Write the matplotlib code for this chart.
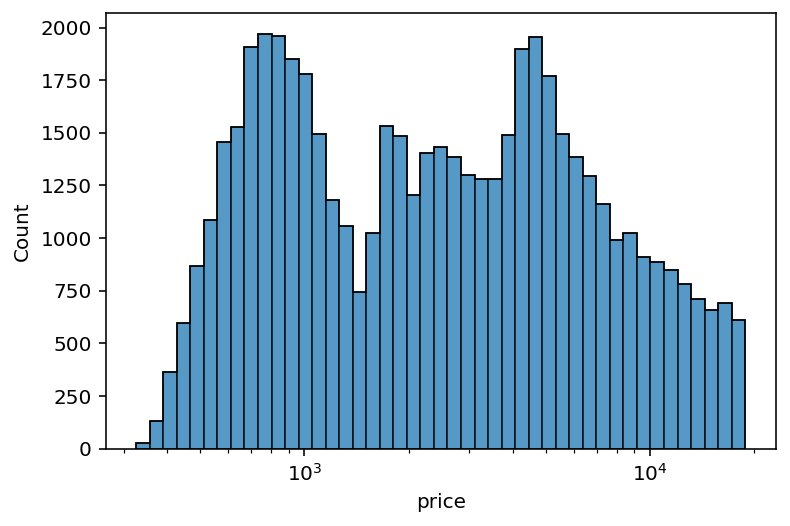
import numpy as np
import matplotlib
matplotlib.use("Agg")
import matplotlib.pyplot as plt

price_min = 326
price_max = 18823
counts = [25, 130, 364, 597, 869, 1085, 1455, 1526, 1907, 1969, 1958, 1850, 1779,
          1493, 1179, 1059, 745, 1026, 1531, 1483, 1207, 1402, 1431, 1383, 1302,
          1282, 1282, 1489, 1898, 1955, 1769, 1493, 1383, 1293, 1164, 990, 1026,
          912, 888, 850, 783, 710, 659, 692, 612]

n_bins = len(counts)
edges = np.logspace(np.log10(price_min), np.log10(price_max), n_bins + 1)
centers = np.sqrt(edges[:-1] * edges[1:])

W, H = 790, 526
dpi = 144
fig = plt.figure(figsize=(W / dpi, H / dpi), dpi=dpi)
left, right, top, bottom = 105.7, 775.7, 13.3, 448.7
ax = fig.add_axes([left / W, (H - bottom) / H, (right - left) / W, (bottom - top) / H])
ax.hist(centers, bins=edges, weights=counts, color="#1f77b4", alpha=0.75,
        edgecolor="black", linewidth=0.8)
ax.hist(centers, bins=edges, weights=counts, histtype="step",
        edgecolor="black", linewidth=0.8)
ax.set_xscale("log")
ax.set_xlabel("price")
ax.set_ylabel("Count")
fig.savefig("out.png", dpi=dpi)
